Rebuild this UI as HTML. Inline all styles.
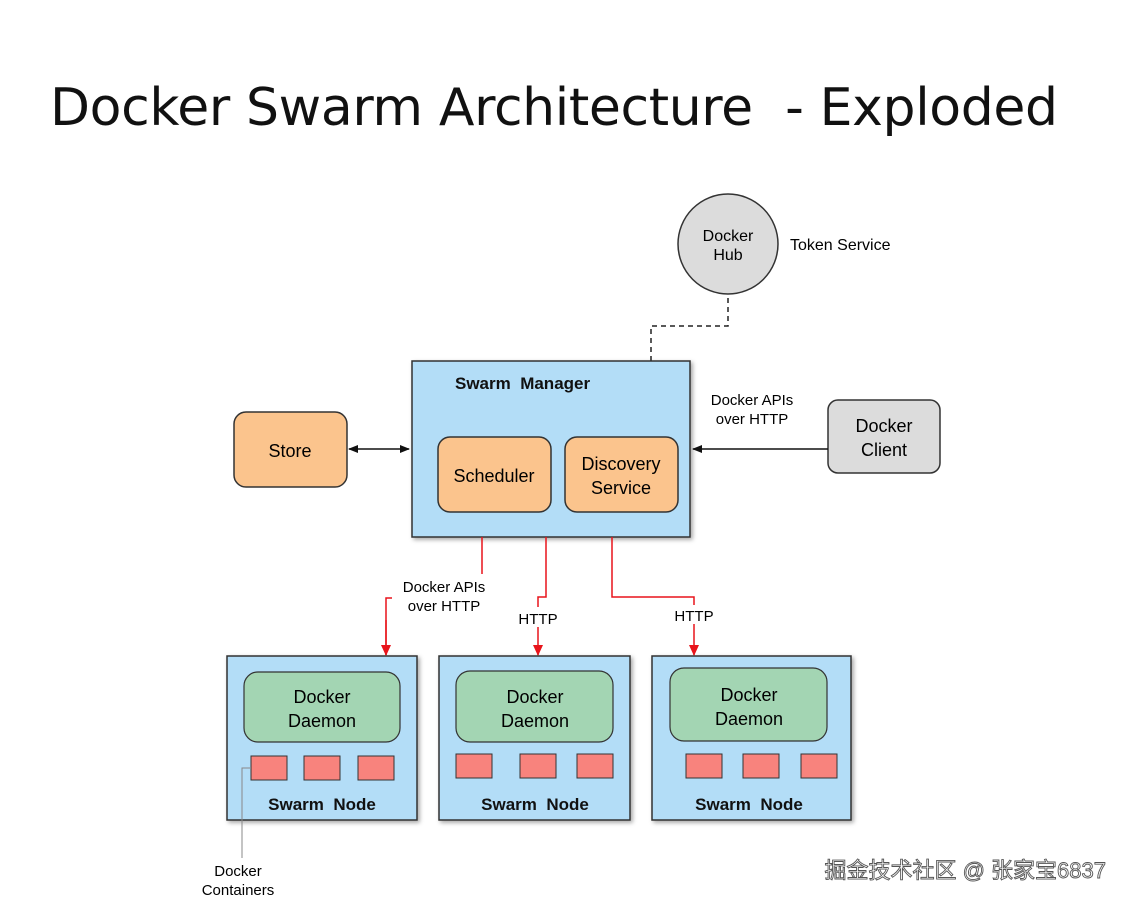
<!DOCTYPE html>
<html><head><meta charset="utf-8"><style>
body{margin:0;background:#fff;width:1130px;height:908px;overflow:hidden}
svg text{font-family:"Liberation Sans",sans-serif;white-space:pre}
</style></head><body>
<svg width="1130" height="908" viewBox="0 0 1130 908" xmlns="http://www.w3.org/2000/svg" xml:space="preserve">
<defs>
<marker id="ab" markerWidth="10" markerHeight="10" refX="9" refY="5" orient="auto-start-reverse" markerUnits="userSpaceOnUse"><path d="M0,1 L10,5 L0,9z" fill="#111"/></marker>
<marker id="ar" markerWidth="12" markerHeight="12" refX="10" refY="6" orient="auto" markerUnits="userSpaceOnUse"><path d="M0,1 L11,6 L0,11z" fill="#e8141b"/></marker>
<filter id="sh"><feDropShadow dx="2" dy="2" stdDeviation="2" flood-opacity="0.35"/></filter>
</defs>
<text x="50" y="125" font-size="52" fill="#111" textLength="1008" style="font-family:'DejaVu Sans','Liberation Sans',sans-serif">Docker Swarm Architecture  - Exploded</text>

<circle cx="728" cy="244" r="50" fill="#dcdcdc" stroke="#333" stroke-width="1.5"/>
<text x="728" y="241" font-size="16" text-anchor="middle">Docker</text>
<text x="728" y="260" font-size="16" text-anchor="middle">Hub</text>
<text x="790" y="250" font-size="16">Token Service</text>
<path d="M651,361 V326 H728 V294" fill="none" stroke="#222" stroke-width="1.5" stroke-dasharray="5,4"/>

<rect x="412" y="361" width="278" height="176" fill="#b3ddf7" stroke="#333" stroke-width="1.5" filter="url(#sh)"/>
<text x="455" y="389" font-size="17" font-weight="bold" fill="#111">Swarm  Manager</text>
<rect x="438" y="437" width="113" height="75" rx="12" fill="#fbc48d" stroke="#333" stroke-width="1.5"/>
<text x="494" y="482" font-size="18" text-anchor="middle">Scheduler</text>
<rect x="565" y="437" width="113" height="75" rx="12" fill="#fbc48d" stroke="#333" stroke-width="1.5"/>
<text x="621" y="470" font-size="18" text-anchor="middle">Discovery</text>
<text x="621" y="494" font-size="18" text-anchor="middle">Service</text>

<rect x="234" y="412" width="113" height="75" rx="12" fill="#fbc48d" stroke="#333" stroke-width="1.5"/>
<text x="290" y="457" font-size="18" text-anchor="middle">Store</text>
<line x1="349" y1="449" x2="409" y2="449" stroke="#111" stroke-width="1.5" marker-start="url(#ab)" marker-end="url(#ab)"/>

<rect x="828" y="400" width="112" height="73" rx="10" fill="#dcdcdc" stroke="#333" stroke-width="1.5"/>
<text x="884" y="432" font-size="18" text-anchor="middle">Docker</text>
<text x="884" y="456" font-size="18" text-anchor="middle">Client</text>
<line x1="828" y1="449" x2="693" y2="449" stroke="#111" stroke-width="1.5" marker-end="url(#ab)"/>
<text x="752" y="405" font-size="15" text-anchor="middle">Docker APIs</text>
<text x="752" y="424" font-size="15" text-anchor="middle">over HTTP</text>

<path d="M482,537 V574 M386,655 V598 H392" fill="none" stroke="#e8141b" stroke-width="1.5"/>
<line x1="386" y1="620" x2="386" y2="655" stroke="#e8141b" stroke-width="1.5" marker-end="url(#ar)"/>
<text x="444" y="592" font-size="15" text-anchor="middle">Docker APIs</text>
<text x="444" y="611" font-size="15" text-anchor="middle">over HTTP</text>
<path d="M546,537 V597 H538 V607" fill="none" stroke="#e8141b" stroke-width="1.5"/>
<line x1="538" y1="627" x2="538" y2="655" stroke="#e8141b" stroke-width="1.5" marker-end="url(#ar)"/>
<text x="538" y="624" font-size="15" text-anchor="middle">HTTP</text>
<path d="M612,537 V597 H694 V605" fill="none" stroke="#e8141b" stroke-width="1.5"/>
<line x1="694" y1="624" x2="694" y2="655" stroke="#e8141b" stroke-width="1.5" marker-end="url(#ar)"/>
<text x="694" y="621" font-size="15" text-anchor="middle">HTTP</text>

<g>
<rect x="227" y="656" width="190" height="164" fill="#b3ddf7" stroke="#333" stroke-width="1.5" filter="url(#sh)"/>
<rect x="244" y="672" width="156" height="70" rx="14" fill="#a3d5b3" stroke="#333" stroke-width="1.2"/>
<text x="322" y="703" font-size="18" text-anchor="middle">Docker</text>
<text x="322" y="727" font-size="18" text-anchor="middle">Daemon</text>
<rect x="251" y="756" width="36" height="24" fill="#f8837d" stroke="#333"/>
<rect x="304" y="756" width="36" height="24" fill="#f8837d" stroke="#333"/>
<rect x="358" y="756" width="36" height="24" fill="#f8837d" stroke="#333"/>
<text x="322" y="810" font-size="17" font-weight="bold" text-anchor="middle" fill="#111">Swarm  Node</text>
</g>
<g>
<rect x="439" y="656" width="191" height="164" fill="#b3ddf7" stroke="#333" stroke-width="1.5" filter="url(#sh)"/>
<rect x="456" y="671" width="157" height="71" rx="14" fill="#a3d5b3" stroke="#333" stroke-width="1.2"/>
<text x="535" y="703" font-size="18" text-anchor="middle">Docker</text>
<text x="535" y="727" font-size="18" text-anchor="middle">Daemon</text>
<rect x="456" y="754" width="36" height="24" fill="#f8837d" stroke="#333"/>
<rect x="520" y="754" width="36" height="24" fill="#f8837d" stroke="#333"/>
<rect x="577" y="754" width="36" height="24" fill="#f8837d" stroke="#333"/>
<text x="535" y="810" font-size="17" font-weight="bold" text-anchor="middle" fill="#111">Swarm  Node</text>
</g>
<g>
<rect x="652" y="656" width="199" height="164" fill="#b3ddf7" stroke="#333" stroke-width="1.5" filter="url(#sh)"/>
<rect x="670" y="668" width="157" height="73" rx="14" fill="#a3d5b3" stroke="#333" stroke-width="1.2"/>
<text x="749" y="701" font-size="18" text-anchor="middle">Docker</text>
<text x="749" y="725" font-size="18" text-anchor="middle">Daemon</text>
<rect x="686" y="754" width="36" height="24" fill="#f8837d" stroke="#333"/>
<rect x="743" y="754" width="36" height="24" fill="#f8837d" stroke="#333"/>
<rect x="801" y="754" width="36" height="24" fill="#f8837d" stroke="#333"/>
<text x="749" y="810" font-size="17" font-weight="bold" text-anchor="middle" fill="#111">Swarm  Node</text>
</g>

<path d="M251,768 H242 V858" fill="none" stroke="#888" stroke-width="1"/>
<text x="238" y="876" font-size="15" text-anchor="middle">Docker</text>
<text x="238" y="895" font-size="15" text-anchor="middle">Containers</text>

<text x="1106" y="878" font-size="22" text-anchor="end" fill="#fff" stroke="#555" stroke-width="0.9" style="font-family:'Liberation Sans','Noto Sans CJK SC',sans-serif">掘金技术社区 @ 张家宝6837</text>
</svg>
</body></html>
